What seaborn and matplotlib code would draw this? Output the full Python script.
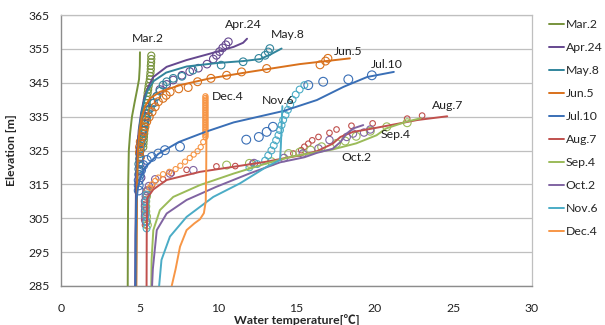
import matplotlib
matplotlib.use("Agg")
import matplotlib.pyplot as plt
import seaborn as sns

# ---- series names and colours -------------------------------------------
dates = ["Mar.2", "Apr.24", "May.8", "Jun.5", "Jul.10",
         "Aug.7", "Sep.4", "Oct.2", "Nov.6", "Dec.4"]
colors = ["#77933C", "#65488F", "#31859C", "#D9711C", "#3A6FB6",
          "#C0504D", "#9BBB59", "#8064A2", "#4BACC6", "#F79646"]

# ---- simulated profiles (temperature [degC], elevation [m]) --------------
mar2_sim_t = [4.25, 4.26, 4.28, 4.32, 4.40, 4.52, 4.68, 4.85, 4.97, 5.02, 5.03]
mar2_sim_e = [285, 300, 315, 325, 330, 335, 339, 343, 346, 350, 354]

apr24_sim_t = [4.72, 4.74, 4.78, 4.85, 4.95, 5.10, 5.30, 5.56, 5.88, 6.73, 8.0, 9.5, 11.0, 11.6, 11.85]
apr24_sim_e = [285, 300, 315, 325, 331, 336, 340.5, 343.8, 346.7, 349.7, 351.7, 353.6, 355.6, 356.8, 358.0]

may8_sim_t = [4.78, 4.80, 4.83, 4.90, 5.0, 5.15, 5.3, 5.5, 5.9, 6.7, 8.0, 9.9, 11.6, 12.7, 13.4, 14.05]
may8_sim_e = [285, 300, 315, 325, 332, 336.5, 339.5, 342.5, 345.5, 348, 349.8, 350.8, 351.4, 352, 353.5, 355.1]

jun5_sim_t = [4.80, 4.82, 4.85, 4.90, 5.0, 5.15, 5.35, 5.67, 6.3, 7.58, 9.5, 12.0, 15.2, 18.4]
jun5_sim_e = [285, 300, 315, 325, 331, 335, 338, 340.4, 342.3, 344.3, 346.3, 348.2, 350.5, 352.2]

jul10_sim_t = [4.75, 4.76, 4.80, 4.90, 5.05, 5.35, 6.2, 7.5, 9.2, 11.0, 14.2, 16.3, 18.0, 19.5, 21.2]
jul10_sim_e = [285, 300, 310, 314, 317, 320, 324, 327.5, 330.5, 333.3, 336.7, 339.9, 343.8, 346.7, 348.2]

aug7_sim_t = [5.45, 5.46, 5.50, 5.88, 6.73, 8.85, 11.0, 13.1, 14.2, 15.2, 16.3, 17.3, 17.8, 18.6, 19.5, 21.0, 22.7, 24.6]
aug7_sim_e = [285, 300, 311, 313.5, 316.3, 318.7, 320.2, 321.7, 322.7, 323.5, 324.8, 327, 329, 330.5, 331.2, 332.5, 334, 335.1]

sep4_sim_t = [5.75, 5.77, 5.88, 6.3, 7.15, 8.85, 11.0, 13.1, 14.8, 16.3, 17.3, 18.8, 20.1, 20.7, 22.0, 22.9]
sep4_sim_e = [285, 292.7, 301.5, 307.4, 311.3, 314.8, 318.2, 321.2, 323.3, 324.5, 325.3, 327.1, 329.5, 331.5, 333.5, 334.5]

oct2_sim_t = [5.80, 5.85, 6.1, 6.73, 8.0, 9.9, 12.0, 13.95, 15.5, 16.3, 17.3, 17.8, 18.2, 18.6, 19.25]
oct2_sim_e = [285, 290, 301.5, 306.4, 310.4, 314.3, 318.2, 321.5, 323.0, 324.3, 325.5, 327.5, 330, 331.5, 332.5]

nov6_sim_t = [6.25, 6.4, 6.94, 8.0, 9.7, 11.4, 13.1, 13.95, 14.0, 14.05, 14.1]
nov6_sim_e = [285, 292.7, 299.6, 305.4, 311.3, 315.3, 320.2, 322.2, 326, 332, 338.1]

dec4_sim_t = [7.05, 7.3, 7.58, 8.0, 8.5, 8.85, 9.1, 9.22, 9.25, 9.28]
dec4_sim_e = [285, 290, 296.6, 301.5, 303.5, 304.7, 306.5, 310, 320, 341.3]

# ---- observed profiles ---------------------------------------------------
mar2_obs_t = [5.75, 5.75, 5.74, 5.72, 5.72, 5.70, 5.68, 5.66, 5.62, 5.58, 5.55, 5.52, 5.50, 5.47,
              5.45, 5.43, 5.42, 5.40, 5.38, 5.37, 5.35, 5.33, 5.32, 5.30, 5.28, 5.27, 5.25, 5.24]
mar2_obs_e = [353, 352, 351, 350, 349, 348, 347, 346, 345, 344, 343, 342, 341, 340,
              339, 338, 337, 336, 335, 334, 333, 332, 331, 330, 329, 328, 327, 326]

apr24_obs_t = [10.66, 10.5, 10.3, 10.1, 9.9, 9.7, 9.3, 8.75, 8.2, 7.7, 7.15, 6.73, 6.3, 6.1, 5.8,
               5.56, 5.4, 5.3, 5.2, 5.15, 5.1, 5.05, 5.05, 5.05, 5.05, 5.1]
apr24_obs_e = [357.1, 356.2, 355.3, 354.2, 353.1, 352.0, 350.5, 349.3, 348.3, 347.2, 345.8, 344.5, 343.0,
               341.0, 339.0, 337.0, 335.0, 333.0, 331.0, 329.0, 327.0, 325.0, 323.0, 321.0, 319.0, 317.0]

may8_obs_t = [13.3, 13.2, 13.0, 12.6, 11.6, 10.2, 8.4, 7.7, 7.15, 6.73, 6.5, 6.3, 6.1, 5.9, 5.7, 5.55,
              5.45, 5.35, 5.25, 5.2, 5.15, 5.1, 5.05, 5.0, 5.0, 4.95, 4.95, 4.95]
may8_obs_e = [355.1, 354.1, 353.1, 352.2, 351.2, 350.2, 348.7, 346.9, 346.3, 345.3, 344.3, 342.5, 341.0,
              339.0, 337.5, 336.0, 334.5, 333.0, 331.5, 330.0, 328.5, 327.0, 325.5, 324.0, 322.5, 321.0,
              319.5, 318.0]

jun5_obs_t = [17.0, 16.85, 16.5, 13.1, 11.5, 10.55, 9.55, 8.7, 8.1, 7.5, 6.95, 6.7, 6.5, 6.2, 6.0,
              5.8, 5.62, 5.46, 5.35, 5.26, 5.16, 5.05, 5.0, 5.0, 5.05]
jun5_obs_e = [352.2, 351.4, 350.3, 349.2, 348.2, 347.2, 346.3, 345.3, 343.6, 343.2, 342.3, 341.3, 340.4,
              339.4, 337.9, 336.4, 334.9, 333.5, 332.0, 330.6, 329.1, 327.6, 326.0, 324.5, 323.0]

jul10_obs_t = [19.8, 18.3, 16.7, 15.75, 13.5, 13.1, 12.6, 11.8, 7.58, 6.62, 6.2, 5.78, 5.46, 5.24,
               5.1, 5.0, 4.95, 4.95, 4.95]
jul10_obs_e = [347.2, 346.0, 345.3, 344.3, 332.0, 330.5, 329.0, 328.2, 326.1, 325.1, 324.1, 323.1,
               322.2, 320.7, 319.2, 317.7, 316.2, 314.7, 313.2]

aug7_obs_t = [23.0, 22.05, 19.85, 18.5, 17.55, 17.1, 16.4, 16.0, 15.75, 15.5, 15.3, 14.8, 12.2, 11.1,
              9.9, 8.0, 7.05, 6.5, 5.8, 5.5, 5.4, 5.35, 5.3, 5.3, 5.3, 5.3, 5.35]
aug7_obs_e = [335.3, 334.4, 333.0, 332.3, 331.2, 330.2, 329.0, 328.0, 327.0, 326.1, 325.1, 324.1, 321.3,
              320.4, 320.3, 319.3, 318.3, 316.5, 314.8, 313.5, 312.0, 310.5, 309.0, 307.5, 306.0, 304.5, 303.0]

sep4_obs_t = [22.05, 20.75, 19.7, 18.8, 18.1, 17.55, 16.6, 15.9, 15.2, 14.5, 13.4, 12.0, 10.55,
              5.5, 5.45, 5.4, 5.4, 5.4, 5.45, 5.45, 5.5]
sep4_obs_e = [333.2, 332.0, 330.7, 329.2, 327.8, 327.1, 326.1, 325.1, 324.5, 324.1, 321.7, 321.2, 320.7,
              313.0, 311.5, 310.0, 308.5, 307.0, 305.5, 304.0, 303.0]

oct2_obs_t = [19.7, 19.3, 18.6, 18.2, 17.1, 16.4, 15.4, 14.2, 12.3, 8.43, 6.94, 6.0, 5.6, 5.45,
              5.4, 5.35, 5.35, 5.35, 5.35, 5.4]
oct2_obs_e = [331.2, 330.3, 330.0, 329.0, 328.1, 325.6, 324.1, 322.8, 321.3, 319.2, 318.2, 316.5,
              314.5, 313.0, 311.5, 310.0, 308.5, 307.0, 305.5, 304.0]

nov6_obs_t = [15.5, 15.2, 14.95, 14.75, 14.6, 14.45, 14.3, 14.15, 14.05, 13.95, 13.85, 13.7, 13.55,
              13.4, 13.2, 13.0, 12.5, 12.0, 5.45, 5.4, 5.4, 5.4, 5.45, 5.45]
nov6_obs_e = [344.3, 343.0, 341.5, 340.0, 338.5, 337.0, 335.5, 334.0, 332.5, 331.0, 329.5, 328.0,
              326.5, 325.0, 323.5, 322.0, 321.0, 320.0, 312.0, 310.0, 308.0, 306.0, 304.0, 302.0]

dec4_obs_t = [9.2, 9.2, 9.2, 9.2, 9.2, 9.2, 9.2, 9.2, 9.2, 9.2, 9.2, 9.2, 9.2, 9.2, 9.2, 9.2, 9.2,
              9.2, 9.2, 9.2, 9.2, 9.2, 9.2, 9.2, 9.2, 9.06, 8.9, 8.7, 8.45, 8.2, 7.9, 7.6, 7.3,
              6.9, 6.5, 6.2, 6.0, 5.8, 5.65]
dec4_obs_e = [341.0, 340.5, 340.0, 339.5, 339.0, 338.5, 338.0, 337.5, 337.0, 336.5, 336.0, 335.5,
              335.0, 334.5, 334.0, 333.5, 333.0, 332.5, 332.0, 331.5, 331.0, 330.5, 330.0, 329.5,
              329.0, 327.5, 326.0, 324.8, 323.8, 322.8, 321.7, 320.5, 319.5, 318.7, 318.0, 317.0,
              316.0, 315.0, 314.0]

sim_t = [mar2_sim_t, apr24_sim_t, may8_sim_t, jun5_sim_t, jul10_sim_t,
         aug7_sim_t, sep4_sim_t, oct2_sim_t, nov6_sim_t, dec4_sim_t]
sim_e = [mar2_sim_e, apr24_sim_e, may8_sim_e, jun5_sim_e, jul10_sim_e,
         aug7_sim_e, sep4_sim_e, oct2_sim_e, nov6_sim_e, dec4_sim_e]
obs_t = [mar2_obs_t, apr24_obs_t, may8_obs_t, jun5_obs_t, jul10_obs_t,
         aug7_obs_t, sep4_obs_t, oct2_obs_t, nov6_obs_t, dec4_obs_t]
obs_e = [mar2_obs_e, apr24_obs_e, may8_obs_e, jun5_obs_e, jul10_obs_e,
         aug7_obs_e, sep4_obs_e, oct2_obs_e, nov6_obs_e, dec4_obs_e]

# marker size (points^2) of the observed circles for each date
obs_size = [26, 30, 30, 32, 40, 16, 32, 28, 24, 14]

# label anchor for each date (temperature, elevation)
label_t = [5.54, 11.59, 14.46, 18.28, 20.76, 24.65, 21.34, 18.79, 13.82, 10.64]
label_e = [358.0, 362.2, 359.2, 354.3, 350.5, 338.2, 329.6, 322.8, 339.9, 340.8]

x_ticks = [0, 5, 10, 15, 20, 25, 30]
y_ticks = [285, 295, 305, 315, 325, 335, 345, 355, 365]

# ---- figure ---------------------------------------------------------------
sns.set_theme(style="white")
plt.rcParams["font.family"] = ["Lato", "Noto Sans CJK JP", "DejaVu Sans"]

fig = plt.figure(figsize=(6.05, 3.25), dpi=100)
ax = fig.add_axes([61 / 605, 1 - 286 / 325, (532 - 61) / 605, (286 - 15) / 325])

for i, name in enumerate(dates):
    sns.scatterplot(x=obs_t[i], y=obs_e[i], ax=ax, marker="o", s=obs_size[i],
                    facecolors="none", edgecolor=colors[i], linewidth=0.8,
                    legend=False, zorder=2)
for i, name in enumerate(dates):
    sns.lineplot(x=sim_t[i], y=sim_e[i], ax=ax, sort=False, estimator=None,
                 color=colors[i], linewidth=1.4, label=name, zorder=3)
    ax.text(label_t[i], label_e[i], name, ha="center", va="center",
            fontsize=8.8, color="#222222", zorder=4)

ax.set_xlim(0, 30)
ax.set_ylim(285, 365)
ax.set_xticks(x_ticks)
ax.set_yticks(y_ticks)
ax.tick_params(axis="both", labelsize=8.8, colors="#222222")
ax.tick_params(axis="x", length=4, width=0.8, color="#8C8C8C", direction="out", pad=8)
ax.tick_params(axis="y", length=0, pad=8)
ax.grid(axis="y", color="#BFBFBF", linewidth=0.9)
ax.grid(axis="x", visible=False)
ax.set_axisbelow(True)
for side in ["left", "bottom"]:
    ax.spines[side].set_color("#8C8C8C")
    ax.spines[side].set_linewidth(1.0)
for side in ["top", "right"]:
    ax.spines[side].set_color("#BFBFBF")
    ax.spines[side].set_linewidth(0.9)

ax.set_xlabel("Water temperature[℃]", fontsize=8.8, fontweight="bold", labelpad=0)
ax.set_ylabel("Elevation [m]", fontsize=8.8, fontweight="bold", labelpad=8)

ax.legend(loc="upper left", bbox_to_anchor=(549 / 605, 1 - 19 / 325),
          bbox_transform=fig.transFigure, frameon=False, fontsize=8.8,
          handlelength=1.2, handletextpad=0.15, labelspacing=0.98,
          borderpad=0, borderaxespad=0)

fig.savefig("out.png", dpi=100)
